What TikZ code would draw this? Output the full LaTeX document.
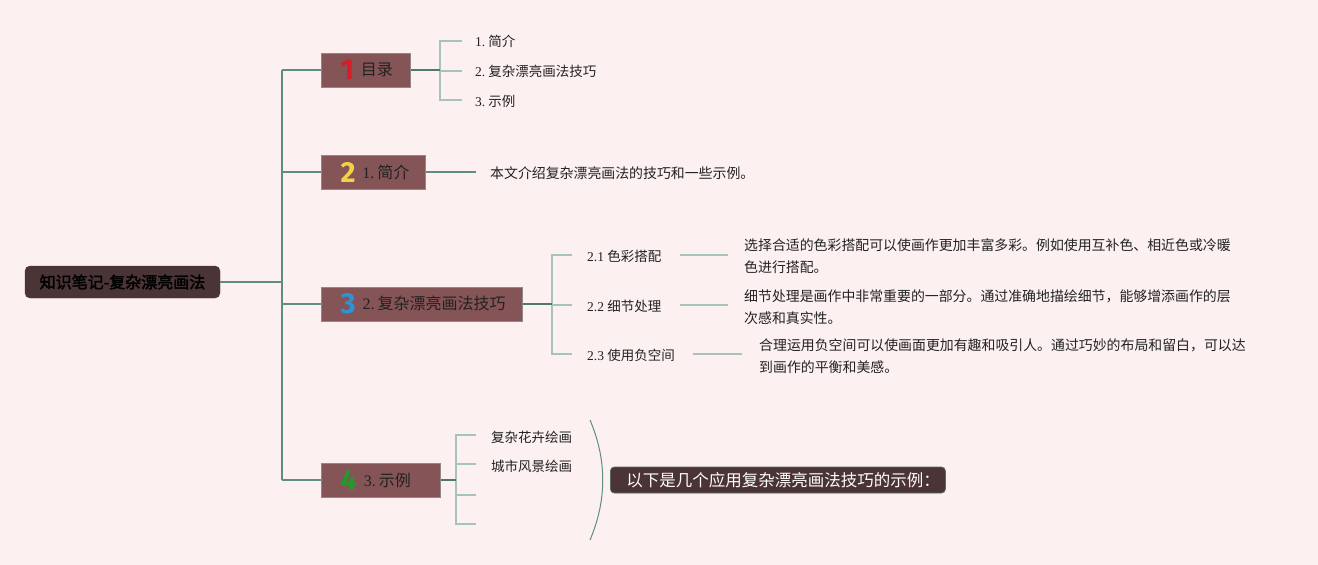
\documentclass[tikz,border=0pt]{standalone}
\usepackage{fontspec}
\setmainfont{Liberation Serif}
\newfontfamily\cjk{Noto Sans CJK SC}
\newfontfamily\cjkb[FakeBold=2.5]{Noto Sans CJK SC}
\newfontfamily\numf{Fira Sans}
\newcommand\bnum[2]{\raisebox{-4pt}{\color{#1}\numf\bfseries\fontsize{29}{29}\selectfont #2}\hspace{7pt}}
\newcommand\dotsp{.\hspace{3pt}}
\definecolor{bg}{HTML}{FDF0F1}
\definecolor{boxfill}{HTML}{845456}
\definecolor{boxline}{HTML}{8E8A8A}
\definecolor{rootfill}{HTML}{4A3436}
\definecolor{mainln}{HTML}{5E8E82}
\definecolor{subln}{HTML}{A6C4BA}
\definecolor{txt}{HTML}{222222}
\definecolor{nred}{HTML}{D41E2C}
\definecolor{nyel}{HTML}{F4D143}
\definecolor{nblu}{HTML}{2E93D6}
\definecolor{ngrn}{HTML}{22992A}
\begin{document}
\begin{tikzpicture}[x=1pt,y=-1pt,
  branch/.style={draw=boxline,line width=1pt,fill=boxfill,anchor=west,minimum height=34pt,inner xsep=19pt,inner ysep=0pt,align=left,text=txt,font=\fontsize{16}{18}\selectfont},
  rootbox/.style={draw=rootfill,fill=rootfill,rounded corners=5pt,minimum width=195pt,minimum height=32pt,text=black,font=\cjkb\fontsize{16}{18}\selectfont},
  sumbox/.style={draw=mainln!60!rootfill,line width=0.8pt,fill=rootfill,rounded corners=4pt,text width=303pt,inner xsep=16pt,align=left,minimum height=26pt,anchor=west,text=white!95!pink,font=\cjk\fontsize{16.5}{18}\selectfont},
  lab/.style={anchor=west,inner sep=0pt,text=txt,font=\fontsize{13.5}{16}\selectfont},
  desc/.style={anchor=west,inner sep=0pt,text=txt,align=left,font=\cjk\fontsize{13.9}{22}\selectfont},
  mline/.style={draw=mainln,line width=1.2pt},
  sline/.style={draw=subln,line width=1.5pt},
  dline/.style={draw=mainln!85!black,line width=1.6pt}
]
\fill[bg] (0,0) rectangle (1318,565);
\useasboundingbox (0,0) rectangle (1318,565);

% root
\node[rootbox] (root) at (122.5,282) {知识笔记-复杂漂亮画法};

% branch boxes
\node[branch,text width=51pt] (b1) at (321,70) {\mbox{\bnum{nred}{1}{\cjk 目录}}};
\node[branch,text width=66pt] (b2) at (321,172) {\mbox{\bnum{nyel}{2}1\dotsp{\cjk 简介}}};
\node[branch,text width=163pt] (b3) at (321,304) {\mbox{\bnum{nblu}{3}2\dotsp{\cjk 复杂漂亮画法技巧}}};
\node[branch,text width=81pt] (b4) at (321,480) {\mbox{\bnum{ngrn}{4}3\dotsp{\cjk 示例}}};

% trunk
\coordinate (r0) at (282,282);
\coordinate (r1) at (282,70);
\coordinate (r2) at (282,172);
\coordinate (r3) at (282,304);
\coordinate (r4) at (282,480);
\draw[mline] (root.east) -- (r0);
\draw[mline] (r1) -- (r4);
\draw[mline] (r1) -- (b1.west);
\draw[mline] (r2) -- (b2.west);
\draw[mline] (r3) -- (b3.west);
\draw[mline] (r4) -- (b4.west);

% branch 1 children
\node[lab] (c11) at (475,41) {1\dotsp{\cjk 简介}};
\node[lab] (c12) at (475,71) {2\dotsp{\cjk 复杂漂亮画法技巧}};
\node[lab] (c13) at (475,101) {3\dotsp{\cjk 示例}};
\coordinate (v1) at (440,70);
\coordinate (v1t) at (440,41);
\coordinate (v1b) at (440,100);
\coordinate (k11) at (462,41);
\coordinate (k12) at (462,71);
\coordinate (k13) at (462,100);
\draw[sline] (k11) -- (v1t) -- (v1b) -- (k13);
\draw[sline] (440,71) -- (k12);
\draw[dline] (b1.east) -- (v1);

% branch 2
\node[desc] (d2) at (490,173) {本文介绍复杂漂亮画法的技巧和一些示例。};
\coordinate (k2) at (476,172);
\draw[mline] (b2.east) -- (k2);

% branch 3
\coordinate (v3) at (552,304);
\coordinate (v3t) at (552,255);
\coordinate (v3b) at (552,354);
\coordinate (k31) at (572,255);
\coordinate (k32) at (572,305);
\coordinate (k33) at (572,354);
\draw[sline] (k31) -- (v3t) -- (v3b) -- (k33);
\draw[sline] (552,305) -- (k32);
\draw[dline] (b3.east) -- (v3);
\node[lab] (c31) at (587,256) {2.1 {\cjk 色彩搭配}};
\node[lab] (c32) at (587,306) {2.2 {\cjk 细节处理}};
\node[lab] (c33) at (587,355) {2.3 {\cjk 使用负空间}};
\node[desc] (d31) at (744,256) {选择合适的色彩搭配可以使画作更加丰富多彩。例如使用互补色、相近色或冷暖\\色进行搭配。};
\node[desc] (d32) at (744,307) {细节处理是画作中非常重要的一部分。通过准确地描绘细节，能够增添画作的层\\次感和真实性。};
\node[desc] (d33) at (759,356) {合理运用负空间可以使画面更加有趣和吸引人。通过巧妙的布局和留白，可以达\\到画作的平衡和美感。};
\coordinate (e31a) at (680,255);
\coordinate (e31b) at (728,255);
\coordinate (e32a) at (680,305);
\coordinate (e32b) at (728,305);
\coordinate (e33a) at (693,354);
\coordinate (e33b) at (742,354);
\draw[sline] (e31a) -- (e31b);
\draw[sline] (e32a) -- (e32b);
\draw[sline] (e33a) -- (e33b);

% branch 4
\coordinate (v4) at (456,480);
\coordinate (v4t) at (456,435);
\coordinate (v4b) at (456,524);
\coordinate (k41) at (476,435);
\coordinate (k42) at (476,464);
\coordinate (k43) at (476,495);
\coordinate (k44) at (476,524);
\draw[sline] (k41) -- (v4t) -- (v4b) -- (k44);
\draw[sline] (456,464) -- (k42);
\draw[sline] (456,495) -- (k43);
\draw[dline] (b4.east) -- (v4);
\node[lab] (c41) at (491,437) {\cjk 复杂花卉绘画};
\node[lab] (c42) at (491,466) {\cjk 城市风景绘画};

% bracket and summary
\coordinate (bt) at (590,420);
\coordinate (bb) at (590,540);
\draw[draw=mainln,line width=1pt] (bt) .. controls (607,460) and (607,500) .. (bb);
\node[sumbox] (sum) at (610,480) {\mbox{以下是几个应用复杂漂亮画法技巧的示例：}};
\end{tikzpicture}
\end{document}
